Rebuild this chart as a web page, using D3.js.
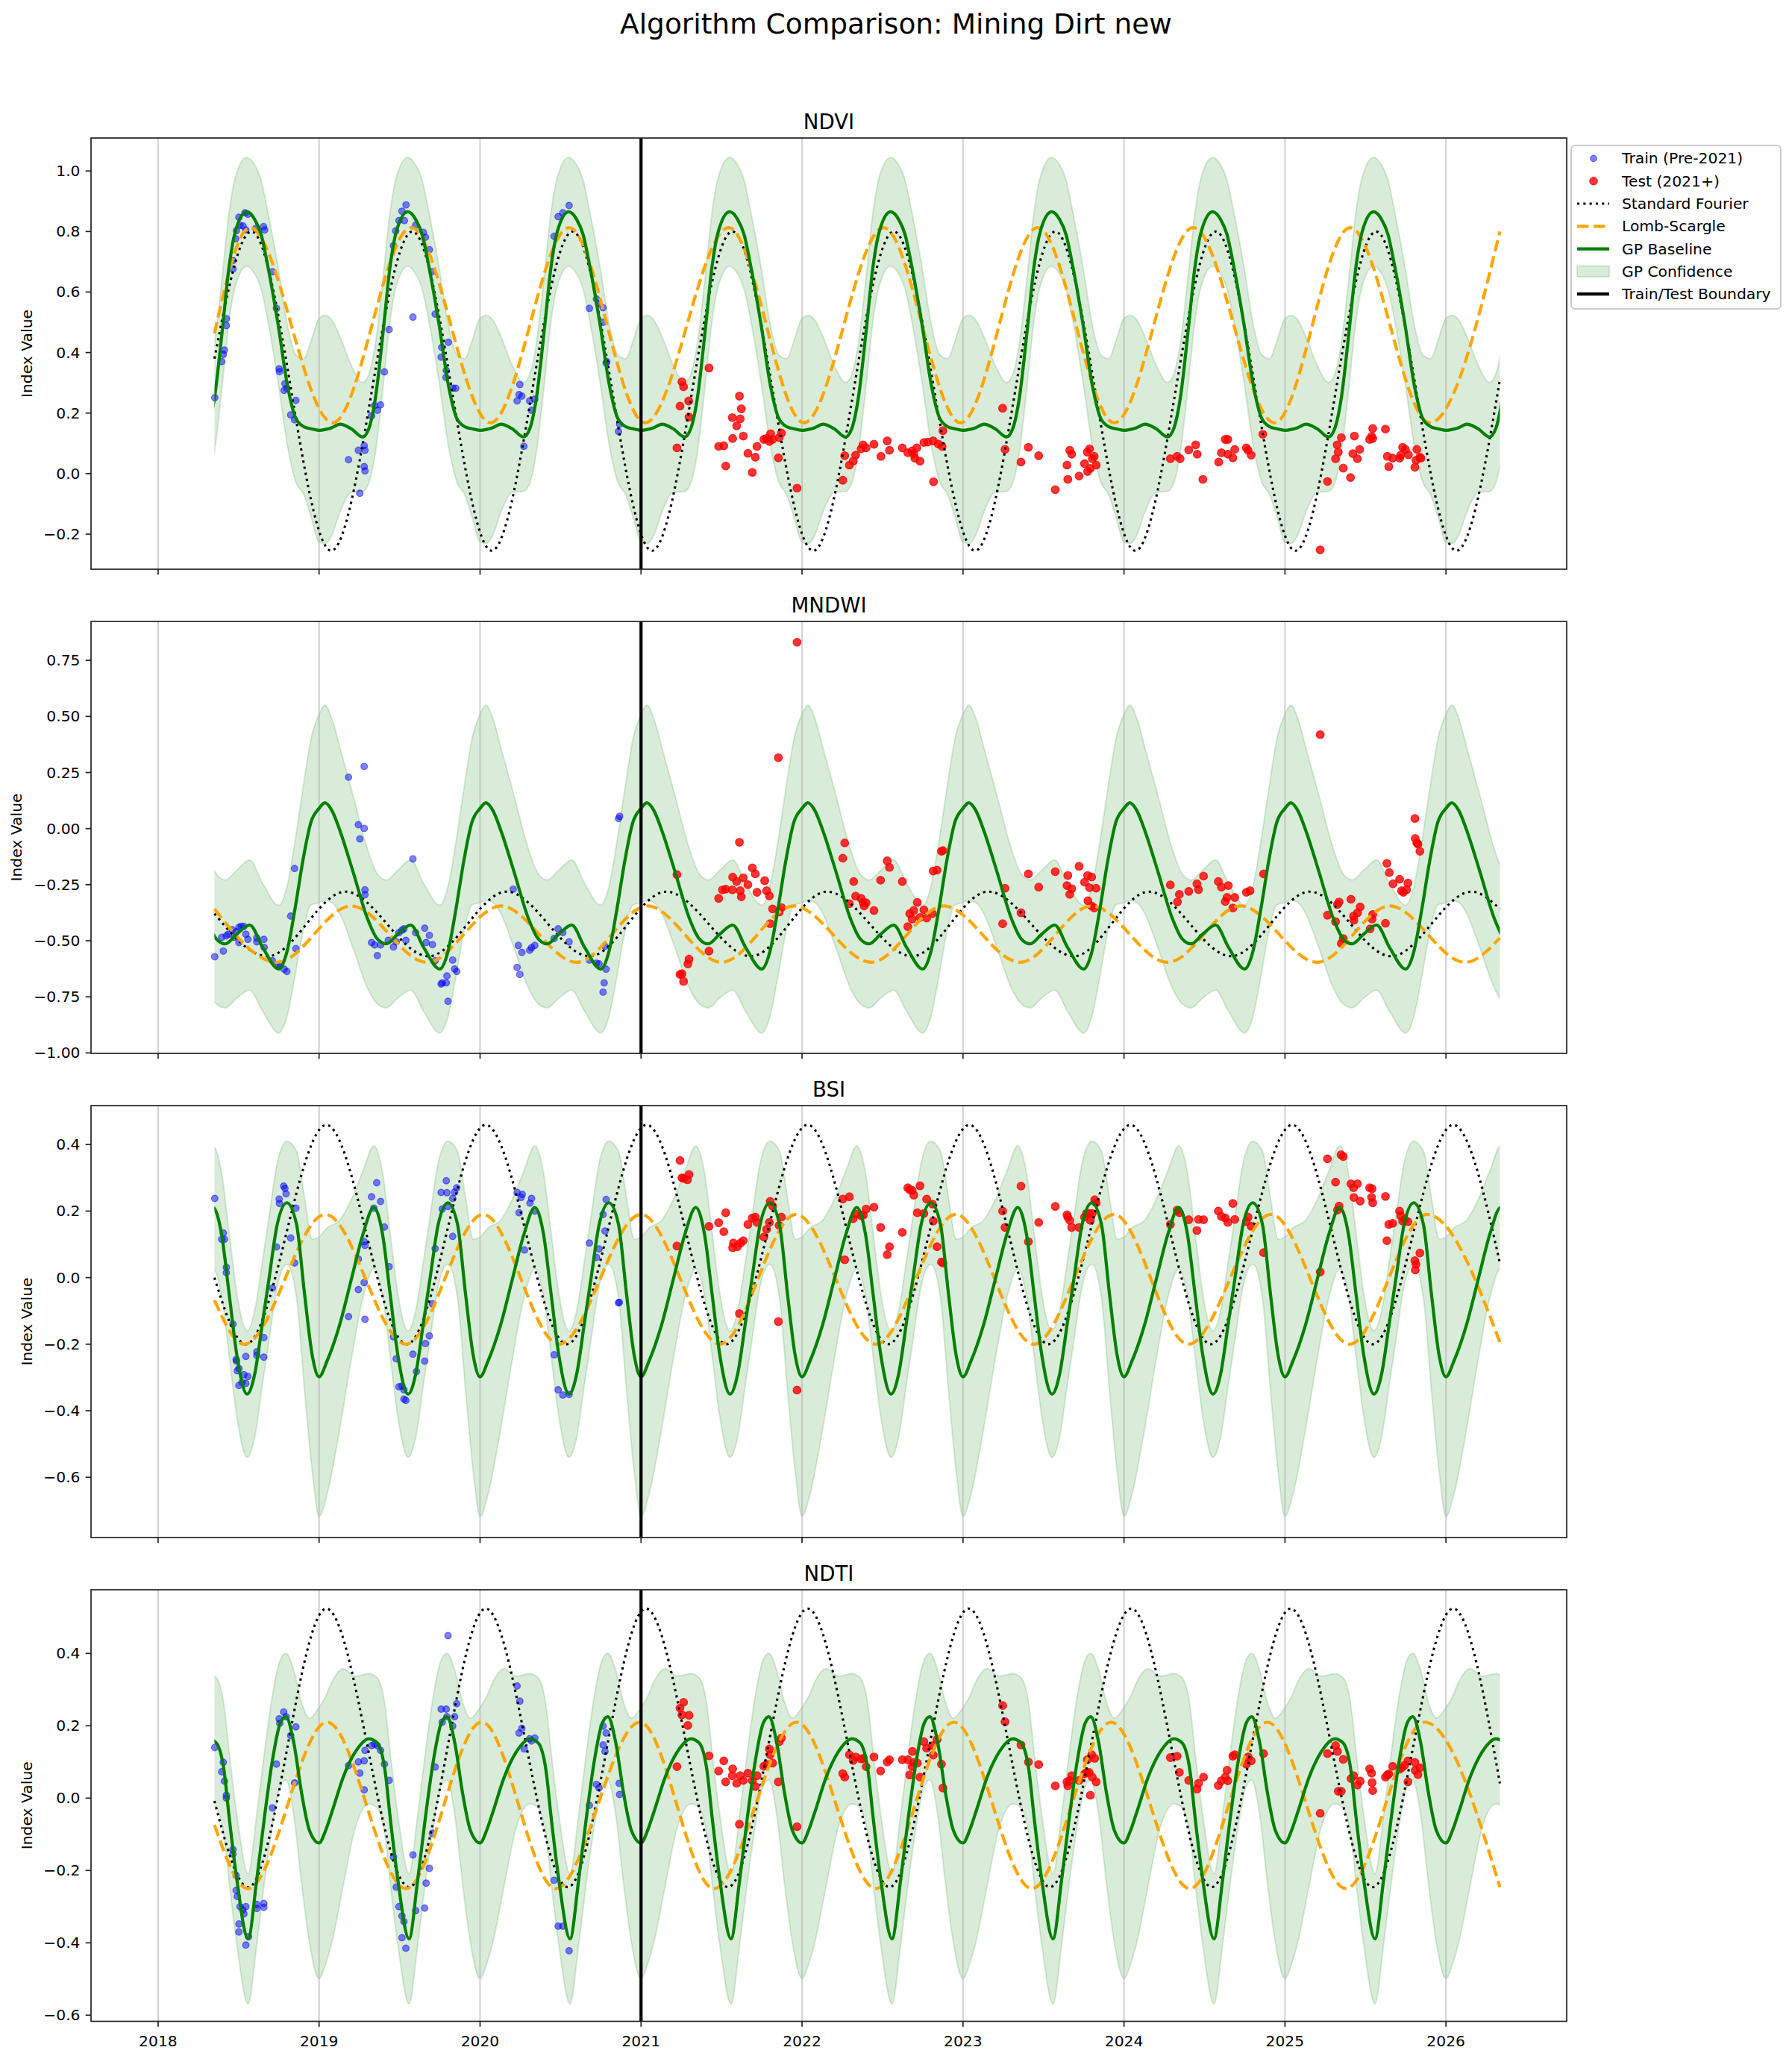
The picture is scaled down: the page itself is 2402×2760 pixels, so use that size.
<!DOCTYPE html>
<html>
<head>
<meta charset="utf-8">
<script src="https://cdn.jsdelivr.net/npm/d3@7"></script>
<style>
  body { margin: 0; background: #fff; }
  text { font-family: "DejaVu Sans", sans-serif; fill: #000; }
</style>
</head>
<body>
<div class="canvas"></div>
<script>
// ---- data ----
const yearTicks = [2018, 2019, 2020, 2021, 2022, 2023, 2024, 2025, 2026];
const splitYear = 2021;
const dataStart = 2018.35, dataEnd = 2026.335;
const gpYears = [2018, 2019, 2020, 2021, 2022, 2023, 2024, 2025, 2026];

// NDVI
const ndviTicks = [-0.2, 0.0, 0.2, 0.4, 0.6, 0.8, 1.0];
const ndviFourier = [[2018.35,0.38],[2018.58,0.80],[2019.075,-0.255],[2019.58,0.80],[2020.072,-0.255],[2020.575,0.80],[2021.068,-0.255],[2021.567,0.80],[2022.07,-0.255],[2022.57,0.80],[2023.075,-0.255],[2023.573,0.80],[2024.07,-0.255],[2024.57,0.80],[2025.065,-0.255],[2025.566,0.80],[2026.065,-0.255],[2026.335,0.31]];
const ndviLs = [[2018.35,0.463],[2018.57,0.813],[2019.085,0.168],[2019.572,0.813],[2020.065,0.168],[2020.553,0.813],[2021.025,0.168],[2021.545,0.813],[2022.012,0.168],[2022.507,0.813],[2022.985,0.168],[2023.464,0.813],[2023.94,0.168],[2024.43,0.813],[2024.935,0.168],[2025.405,0.813],[2025.9,0.168],[2026.335,0.80]];
const ndviGpPhase = [0.00,0.04,0.08,0.13,0.20,0.27,0.31,0.35,0.40,0.44,0.48,0.55,0.60,0.64,0.68,0.745,0.805,0.855,0.905,0.95];
const ndviGpMean = [0.143,0.146,0.152,0.163,0.148,0.121,0.150,0.250,0.480,0.680,0.800,0.865,0.840,0.790,0.690,0.494,0.287,0.183,0.155,0.148];
const ndviGpHalf = [0.370,0.377,0.355,0.290,0.210,0.180,0.180,0.180,0.180,0.180,0.180,0.180,0.180,0.180,0.180,0.190,0.200,0.210,0.225,0.290];
const ndviTrain = [[2018.352,0.251],[2018.395,0.37],[2018.405,0.394],[2018.412,0.408],[2018.424,0.489],[2018.424,0.512],[2018.465,0.676],[2018.465,0.704],[2018.482,0.776],[2018.487,0.803],[2018.502,0.847],[2018.509,0.821],[2018.528,0.818],[2018.54,0.862],[2018.545,0.805],[2018.558,0.857],[2018.606,0.81],[2018.655,0.816],[2018.662,0.805],[2018.71,0.667],[2018.735,0.546],[2018.752,0.346],[2018.754,0.337],[2018.788,0.297],[2018.8,0.282],[2018.783,0.275],[2018.824,0.194],[2018.856,0.242],[2018.848,0.178],
  [2019.183,0.046],[2019.244,0.077],[2019.253,-0.065],[2019.28,0.092],[2019.285,0.077],[2019.28,0.023],[2019.285,0.009],[2019.326,0.191],[2019.345,0.225],[2019.362,0.209],[2019.382,0.227],[2019.406,0.336],[2019.435,0.476],[2019.462,0.753],[2019.476,0.802],[2019.496,0.836],[2019.515,0.867],[2019.53,0.836],[2019.54,0.888],[2019.583,0.517],[2019.6,0.821],[2019.648,0.797],[2019.661,0.781],[2019.685,0.74],[2019.702,0.667],[2019.721,0.527],[2019.762,0.417],[2019.758,0.385],[2019.803,0.434],[2019.79,0.341],[2019.788,0.318],[2019.83,0.282],[2019.849,0.282],
  [2020.23,0.24],[2020.247,0.294],[2020.242,0.261],[2020.26,0.256],[2020.272,0.09],[2020.308,0.24],[2020.32,0.209],[2020.34,0.246],[2020.46,0.784],[2020.485,0.849],[2020.514,0.862],[2020.553,0.886],[2020.679,0.546],[2020.723,0.577],[2020.735,0.562],[2020.764,0.548],[2020.764,0.5],[2020.783,0.365],[2020.787,0.37],[2020.867,0.163],[2020.86,0.139]];
const ndviTest = [[2021.223,0.085],[2021.254,0.303],[2021.264,0.287],[2021.242,0.223],[2021.296,0.24],[2021.298,0.187],[2021.422,0.349],[2021.482,0.09],[2021.514,0.092],[2021.526,0.025],[2021.569,0.116],[2021.567,0.185],[2021.594,0.158],[2021.611,0.256],[2021.623,0.214],[2021.616,0.181],[2021.635,0.124],[2021.664,0.067],[2021.691,0.004],[2021.71,0.054],[2021.72,0.09],[2021.763,0.113],[2021.78,0.116],[2021.797,0.106],[2021.805,0.132],[2021.817,0.113],[2021.853,0.052],[2021.858,0.119],[2021.872,0.134],[2021.969,-0.048],
  [2022.253,-0.022],[2022.265,0.059],[2022.294,0.028],[2022.318,0.041],[2022.333,0.061],[2022.367,0.082],[2022.379,0.095],[2022.398,0.085],[2022.447,0.097],[2022.49,0.057],[2022.529,0.108],[2022.543,0.077],[2022.623,0.085],[2022.657,0.069],[2022.684,0.075],[2022.694,0.064],[2022.713,0.085],[2022.701,0.051],[2022.733,0.041],[2022.757,0.103],[2022.781,0.104],[2022.817,-0.027],[2022.815,0.108],[2022.846,0.098],[2022.87,0.09],[2022.875,0.142],
  [2023.246,0.216],[2023.261,0.08],[2023.36,0.038],[2023.406,0.087],[2023.47,0.059],[2023.573,-0.053],[2023.646,0.028],[2023.651,-0.019],[2023.663,0.077],[2023.675,0.064],[2023.721,-0.008],[2023.755,0.033],[2023.772,0.071],[2023.774,0.007],[2023.786,0.082],[2023.791,0.017],[2023.803,0.049],[2023.815,0.057],[2023.827,0.028],
  [2024.288,0.049],[2024.33,0.057],[2024.349,0.049],[2024.402,0.078],[2024.445,0.095],[2024.455,0.064],[2024.49,-0.019],[2024.588,0.038],[2024.605,0.069],[2024.629,0.113],[2024.645,0.113],[2024.645,0.064],[2024.676,0.052],[2024.688,0.08],[2024.76,0.085],[2024.771,0.077],[2024.79,0.061],[2024.862,0.13],
  [2025.219,-0.252],[2025.264,-0.026],[2025.314,0.049],[2025.324,0.095],[2025.331,0.071],[2025.35,0.119],[2025.362,0.018],[2025.407,-0.013],[2025.421,0.066],[2025.431,0.124],[2025.45,0.049],[2025.464,0.08],[2025.526,0.113],[2025.538,0.123],[2025.545,0.149],[2025.545,0.116],[2025.624,0.147],[2025.636,0.057],[2025.645,0.023],[2025.669,0.051],[2025.712,0.051],[2025.719,0.061],[2025.731,0.087],[2025.748,0.08],[2025.767,0.062],[2025.807,0.021],[2025.814,0.044],[2025.819,0.08],[2025.838,0.054],[2025.845,0.051]];

// MNDWI
const mndwiTicks = [-1.0, -0.75, -0.5, -0.25, 0.0, 0.25, 0.5, 0.75];
const mndwiFourier = [[2018.35,-0.379],[2018.68,-0.569],[2019.164,-0.281],[2019.68,-0.569],[2020.165,-0.281],[2020.68,-0.569],[2021.157,-0.281],[2021.683,-0.569],[2022.156,-0.281],[2022.685,-0.569],[2023.157,-0.281],[2023.69,-0.569],[2024.155,-0.281],[2024.665,-0.569],[2025.155,-0.281],[2025.66,-0.569],[2026.16,-0.281],[2026.335,-0.358]];
const mndwiLs = [[2018.35,-0.358],[2018.74,-0.596],[2019.2,-0.345],[2019.67,-0.596],[2020.13,-0.345],[2020.6,-0.596],[2021.04,-0.345],[2021.5,-0.596],[2021.95,-0.345],[2022.43,-0.596],[2022.88,-0.345],[2023.355,-0.596],[2023.8,-0.345],[2024.27,-0.596],[2024.725,-0.345],[2025.2,-0.596],[2025.652,-0.345],[2026.12,-0.596],[2026.335,-0.487]];
const mndwiGpPhase = [0.00,0.036,0.08,0.13,0.21,0.30,0.36,0.417,0.49,0.569,0.65,0.749,0.80,0.85,0.90,0.95];
const mndwiGpMean = [0.09,0.115,0.08,-0.01,-0.19,-0.40,-0.49,-0.514,-0.47,-0.43,-0.53,-0.626,-0.55,-0.36,-0.14,0.03];
const mndwiGpHalf = [0.42,0.435,0.41,0.37,0.34,0.31,0.29,0.285,0.285,0.29,0.285,0.285,0.29,0.30,0.32,0.37];
const mndwiTrain = [[2018.352,-0.571],[2018.395,-0.485],[2018.405,-0.546],[2018.424,-0.478],[2018.436,-0.471],[2018.461,-0.451],[2018.473,-0.485],[2018.485,-0.46],[2018.502,-0.44],[2018.502,-0.508],[2018.516,-0.436],[2018.533,-0.436],[2018.545,-0.471],[2018.558,-0.494],[2018.613,-0.487],[2018.613,-0.505],[2018.657,-0.494],[2018.659,-0.53],[2018.71,-0.589],[2018.744,-0.613],[2018.759,-0.609],[2018.783,-0.627],[2018.8,-0.637],[2018.824,-0.39],[2018.848,-0.178],[2018.856,-0.535],
  [2019.183,0.229],[2019.28,0.277],[2019.244,0.017],[2019.28,0.001],[2019.253,-0.046],[2019.285,-0.273],[2019.285,-0.295],[2019.326,-0.508],[2019.345,-0.519],[2019.362,-0.566],[2019.382,-0.519],[2019.43,-0.498],[2019.462,-0.528],[2019.479,-0.505],[2019.496,-0.464],[2019.515,-0.453],[2019.527,-0.447],[2019.539,-0.498],[2019.583,-0.135],[2019.6,-0.464],[2019.656,-0.444],[2019.665,-0.508],[2019.685,-0.476],[2019.704,-0.517],[2019.721,-0.589],[2019.758,-0.693],[2019.765,-0.688],[2019.79,-0.688],[2019.794,-0.657],[2019.801,-0.77],[2019.83,-0.586],[2019.842,-0.626],[2019.855,-0.637],
  [2020.206,-0.27],[2020.23,-0.619],[2020.247,-0.65],[2020.238,-0.521],[2020.26,-0.552],[2020.308,-0.542],[2020.32,-0.531],[2020.34,-0.521],[2020.46,-0.49],[2020.485,-0.447],[2020.514,-0.463],[2020.553,-0.505],[2020.679,-0.586],[2020.723,-0.6],[2020.739,-0.603],[2020.771,-0.688],[2020.764,-0.729],[2020.783,-0.627],[2020.776,-0.525],[2020.867,0.055],[2020.86,0.045]];
const mndwiTest = [[2021.969,0.831],[2021.853,0.316],[2021.223,-0.205],[2021.242,-0.65],[2021.254,-0.647],[2021.264,-0.681],[2021.291,-0.603],[2021.298,-0.582],[2021.422,-0.546],[2021.482,-0.311],[2021.506,-0.273],[2021.526,-0.27],[2021.567,-0.273],[2021.569,-0.216],[2021.594,-0.236],[2021.611,-0.061],[2021.616,-0.277],[2021.623,-0.304],[2021.635,-0.219],[2021.664,-0.25],[2021.691,-0.175],[2021.71,-0.202],[2021.72,-0.284],[2021.768,-0.232],[2021.78,-0.277],[2021.797,-0.3],[2021.817,-0.358],[2021.858,-0.372],[2021.872,-0.352],[2021.802,-0.424],
  [2022.253,-0.132],[2022.265,-0.064],[2022.321,-0.236],[2022.294,-0.335],[2022.333,-0.301],[2022.367,-0.311],[2022.379,-0.329],[2022.398,-0.331],[2022.386,-0.345],[2022.447,-0.365],[2022.488,-0.23],[2022.529,-0.144],[2022.543,-0.173],[2022.623,-0.236],[2022.657,-0.437],[2022.669,-0.379],[2022.684,-0.403],[2022.694,-0.365],[2022.716,-0.329],[2022.733,-0.396],[2022.757,-0.362],[2022.774,-0.399],[2022.81,-0.379],[2022.815,-0.189],[2022.839,-0.185],[2022.866,-0.101],[2022.875,-0.098],
  [2023.246,-0.424],[2023.261,-0.266],[2023.36,-0.375],[2023.406,-0.202],[2023.47,-0.261],[2023.573,-0.192],[2023.651,-0.209],[2023.646,-0.254],[2023.675,-0.268],[2023.663,-0.293],[2023.721,-0.168],[2023.755,-0.239],[2023.774,-0.209],[2023.799,-0.216],[2023.786,-0.263],[2023.776,-0.322],[2023.799,-0.345],[2023.815,-0.354],[2023.827,-0.266],
  [2024.288,-0.251],[2024.332,-0.327],[2024.344,-0.293],[2024.402,-0.28],[2024.453,-0.246],[2024.463,-0.272],[2024.494,-0.212],[2024.586,-0.236],[2024.605,-0.261],[2024.648,-0.254],[2024.629,-0.325],[2024.64,-0.307],[2024.676,-0.354],[2024.688,-0.307],[2024.76,-0.284],[2024.783,-0.277],[2024.867,-0.202],
  [2025.219,0.419],[2025.264,-0.386],[2025.314,-0.415],[2025.326,-0.338],[2025.336,-0.327],[2025.35,-0.512],[2025.362,-0.49],[2025.41,-0.315],[2025.426,-0.39],[2025.428,-0.409],[2025.45,-0.376],[2025.467,-0.349],[2025.529,-0.447],[2025.541,-0.403],[2025.545,-0.383],[2025.624,-0.422],[2025.633,-0.155],[2025.648,-0.196],[2025.671,-0.246],[2025.712,-0.226],[2025.724,-0.277],[2025.736,-0.284],[2025.755,-0.273],[2025.764,-0.243],[2025.807,0.045],[2025.809,-0.044],[2025.819,-0.064],[2025.826,-0.069],[2025.838,-0.101]];

// BSI
const bsiTicks = [-0.6, -0.4, -0.2, 0.0, 0.2, 0.4];
const bsiFourier = [[2018.35,0.0],[2018.545,-0.2],[2019.045,0.459],[2019.545,-0.2],[2020.035,0.459],[2020.54,-0.2],[2021.035,0.459],[2021.53,-0.2],[2022.035,0.459],[2022.535,-0.2],[2023.04,0.459],[2023.53,-0.2],[2024.04,0.459],[2024.54,-0.2],[2025.045,0.459],[2025.545,-0.2],[2026.045,0.459],[2026.335,0.044]];
const bsiLs = [[2018.35,-0.068],[2018.535,-0.2],[2019.04,0.19],[2019.54,-0.2],[2020.02,0.19],[2020.49,-0.2],[2021.0,0.19],[2021.49,-0.2],[2021.962,0.19],[2022.459,-0.2],[2022.955,0.19],[2023.44,-0.2],[2023.937,0.19],[2024.4,-0.2],[2024.914,0.19],[2025.402,-0.2],[2025.883,0.19],[2026.335,-0.194]];
const bsiGpPhase = [0.00,0.05,0.127,0.20,0.273,0.34,0.394,0.442,0.49,0.553,0.60,0.65,0.69,0.74,0.80,0.86,0.91,0.958];
const bsiGpMean = [-0.298,-0.25,-0.143,-0.006,0.131,0.211,0.131,-0.052,-0.235,-0.35,-0.29,-0.13,0.0,0.16,0.225,0.16,-0.05,-0.235];
const bsiGpHalf = [0.42,0.40,0.315,0.24,0.19,0.185,0.185,0.185,0.185,0.19,0.19,0.185,0.185,0.185,0.185,0.22,0.29,0.35];
const bsiTrain = [[2018.352,0.238],[2018.395,0.115],[2018.405,0.134],[2018.412,0.115],[2018.424,0.031],[2018.424,0.015],[2018.465,-0.14],[2018.485,-0.246],[2018.487,-0.251],[2018.492,-0.28],[2018.502,-0.273],[2018.502,-0.324],[2018.521,-0.315],[2018.533,-0.292],[2018.545,-0.237],[2018.545,-0.318],[2018.558,-0.297],[2018.613,-0.223],[2018.613,-0.234],[2018.657,-0.18],[2018.657,-0.239],[2018.71,-0.031],[2018.735,0.092],[2018.752,0.236],[2018.754,0.223],[2018.78,0.275],[2018.788,0.268],[2018.795,0.252],[2018.824,0.119],[2018.848,0.044],[2018.856,0.209],
  [2019.183,-0.117],[2019.244,0.056],[2019.244,-0.036],[2019.28,0.108],[2019.285,0.097],[2019.28,-0.015],[2019.285,-0.125],[2019.326,0.243],[2019.34,0.209],[2019.358,0.285],[2019.382,0.229],[2019.406,0.152],[2019.435,0.033],[2019.462,-0.178],[2019.479,-0.244],[2019.496,-0.328],[2019.515,-0.326],[2019.527,-0.365],[2019.539,-0.369],[2019.527,-0.337],[2019.583,-0.23],[2019.605,-0.282],[2019.656,-0.251],[2019.661,-0.198],[2019.685,-0.175],[2019.704,-0.079],[2019.721,0.087],[2019.758,0.256],[2019.765,0.206],[2019.79,0.291],[2019.794,0.255],[2019.801,0.214],[2019.83,0.238],[2019.83,0.124],[2019.842,0.257],[2019.855,0.27],
  [2020.23,0.256],[2020.242,0.195],[2020.255,0.241],[2020.262,0.25],[2020.276,0.083],[2020.31,0.224],[2020.32,0.238],[2020.34,0.2],[2020.46,-0.232],[2020.485,-0.337],[2020.514,-0.353],[2020.553,-0.351],[2020.679,0.104],[2020.723,0.061],[2020.739,0.086],[2020.764,0.19],[2020.783,0.235],[2020.776,0.14],[2020.865,-0.074],[2020.86,-0.076]];
const bsiTest = [[2021.223,0.095],[2021.242,0.352],[2021.254,0.3],[2021.264,0.298],[2021.288,0.294],[2021.298,0.31],[2021.422,0.154],[2021.482,0.165],[2021.514,0.138],[2021.526,0.195],[2021.569,0.09],[2021.574,0.104],[2021.598,0.093],[2021.611,-0.108],[2021.618,0.104],[2021.635,0.111],[2021.664,0.16],[2021.691,0.179],[2021.71,0.182],[2021.72,0.166],[2021.763,0.122],[2021.78,0.145],[2021.797,0.166],[2021.802,0.229],[2021.817,0.215],[2021.853,-0.132],[2021.858,0.157],[2021.872,0.182],[2021.969,-0.338],
  [2022.253,0.236],[2022.294,0.243],[2022.265,0.054],[2022.318,0.177],[2022.333,0.191],[2022.367,0.186],[2022.381,0.188],[2022.398,0.206],[2022.447,0.212],[2022.488,0.151],[2022.529,0.069],[2022.543,0.093],[2022.623,0.136],[2022.657,0.27],[2022.669,0.264],[2022.684,0.262],[2022.694,0.248],[2022.733,0.276],[2022.716,0.195],[2022.757,0.193],[2022.774,0.236],[2022.81,0.221],[2022.815,0.17],[2022.839,0.093],[2022.866,0.047],[2022.875,0.044],
  [2023.246,0.2],[2023.261,0.151],[2023.36,0.275],[2023.406,0.108],[2023.47,0.166],[2023.573,0.214],[2023.646,0.189],[2023.651,0.182],[2023.663,0.172],[2023.675,0.151],[2023.721,0.151],[2023.755,0.182],[2023.767,0.193],[2023.784,0.193],[2023.791,0.172],[2023.803,0.193],[2023.818,0.234],[2023.827,0.225],
  [2024.288,0.16],[2024.33,0.203],[2024.344,0.195],[2024.402,0.174],[2024.453,0.142],[2024.463,0.175],[2024.494,0.174],[2024.586,0.2],[2024.605,0.184],[2024.629,0.179],[2024.645,0.166],[2024.676,0.223],[2024.688,0.175],[2024.76,0.168],[2024.771,0.182],[2024.79,0.154],[2024.867,0.075],
  [2025.219,0.017],[2025.264,0.357],[2025.314,0.287],[2025.326,0.203],[2025.336,0.215],[2025.348,0.369],[2025.362,0.364],[2025.41,0.282],[2025.426,0.27],[2025.428,0.241],[2025.45,0.282],[2025.467,0.23],[2025.526,0.27],[2025.541,0.267],[2025.538,0.241],[2025.545,0.225],[2025.624,0.244],[2025.633,0.111],[2025.645,0.16],[2025.669,0.163],[2025.712,0.2],[2025.719,0.186],[2025.731,0.17],[2025.743,0.175],[2025.764,0.168],[2025.807,0.051],[2025.814,0.04],[2025.838,0.074],[2025.809,0.023]];

// NDTI
const ndtiTicks = [-0.6, -0.4, -0.2, 0.0, 0.2, 0.4];
const ndtiFourier = [[2018.35,-0.008],[2018.56,-0.246],[2019.045,0.524],[2019.56,-0.246],[2020.035,0.524],[2020.545,-0.246],[2021.03,0.524],[2021.54,-0.246],[2022.035,0.524],[2022.543,-0.246],[2023.035,0.524],[2023.54,-0.246],[2024.045,0.524],[2024.545,-0.246],[2025.035,0.524],[2025.545,-0.246],[2026.045,0.524],[2026.335,0.041]];
const ndtiLs = [[2018.35,-0.074],[2018.558,-0.25],[2019.05,0.21],[2019.54,-0.25],[2020.01,0.21],[2020.47,-0.25],[2020.993,0.21],[2021.453,-0.25],[2021.967,0.21],[2022.459,-0.25],[2022.943,0.21],[2023.428,-0.25],[2023.92,0.21],[2024.409,-0.25],[2024.89,0.21],[2025.379,-0.25],[2025.867,0.21],[2026.335,-0.246]];
const ndtiGpPhase = [0.00,0.04,0.08,0.15,0.224,0.31,0.36,0.41,0.442,0.49,0.559,0.612,0.66,0.709,0.758,0.794,0.843,0.891,0.94];
const ndtiGpMean = [-0.124,-0.09,-0.038,0.058,0.127,0.164,0.153,0.075,-0.055,-0.228,-0.389,-0.228,-0.055,0.101,0.206,0.225,0.153,0.015,-0.089];
const ndtiGpHalf = [0.375,0.37,0.36,0.30,0.21,0.18,0.18,0.18,0.18,0.18,0.18,0.18,0.18,0.18,0.175,0.175,0.20,0.25,0.31];
const ndtiTrain = [[2018.352,0.14],[2018.395,0.073],[2018.405,0.099],[2018.412,0.047],[2018.424,0.008],[2018.424,0.0],[2018.465,-0.142],[2018.465,-0.155],[2018.485,-0.214],[2018.485,-0.255],[2018.492,-0.272],[2018.509,-0.3],[2018.502,-0.348],[2018.502,-0.37],[2018.526,-0.309],[2018.533,-0.32],[2018.545,-0.3],[2018.545,-0.406],[2018.562,-0.383],[2018.613,-0.294],[2018.613,-0.305],[2018.657,-0.291],[2018.657,-0.302],[2018.71,-0.027],[2018.735,0.094],[2018.752,0.219],[2018.756,0.207],[2018.78,0.238],[2018.795,0.225],[2018.824,0.173],[2018.848,0.042],[2018.856,0.197],
  [2019.183,0.09],[2019.244,0.1],[2019.253,0.069],[2019.28,0.103],[2019.28,0.023],[2019.285,0.132],[2019.326,0.145],[2019.345,0.149],[2019.362,0.145],[2019.382,0.132],[2019.406,0.094],[2019.435,0.049],[2019.462,-0.163],[2019.479,-0.246],[2019.496,-0.3],[2019.515,-0.326],[2019.527,-0.341],[2019.539,-0.415],[2019.515,-0.386],[2019.583,-0.157],[2019.6,-0.311],[2019.656,-0.304],[2019.665,-0.235],[2019.685,-0.194],[2019.704,-0.097],[2019.721,0.086],[2019.758,0.246],[2019.765,0.21],[2019.79,0.246],[2019.801,0.449],[2019.794,0.225],[2019.83,0.199],[2019.842,0.225],[2019.855,0.261],
  [2020.23,0.31],[2020.247,0.268],[2020.242,0.18],[2020.26,0.193],[2020.274,0.136],[2020.308,0.164],[2020.32,0.158],[2020.34,0.166],[2020.46,-0.227],[2020.485,-0.354],[2020.514,-0.354],[2020.553,-0.422],[2020.679,-0.02],[2020.723,0.038],[2020.739,0.028],[2020.764,0.199],[2020.764,0.147],[2020.783,0.18],[2020.776,0.129],[2020.864,0.041],[2020.867,0.01]];
const ndtiTest = [[2021.223,0.087],[2021.242,0.249],[2021.254,0.23],[2021.264,0.265],[2021.291,0.201],[2021.298,0.229],[2021.422,0.117],[2021.482,0.075],[2021.514,0.103],[2021.526,0.045],[2021.569,0.081],[2021.567,0.062],[2021.594,0.041],[2021.611,-0.072],[2021.616,0.062],[2021.635,0.049],[2021.664,0.069],[2021.691,0.049],[2021.71,0.032],[2021.72,0.062],[2021.763,0.088],[2021.78,0.093],[2021.797,0.136],[2021.802,0.12],[2021.817,0.097],[2021.853,0.045],[2021.858,0.156],[2021.872,0.166],[2021.969,-0.079],
  [2022.253,0.068],[2022.265,0.058],[2022.294,0.12],[2022.318,0.104],[2022.333,0.114],[2022.367,0.108],[2022.381,0.11],[2022.398,0.087],[2022.447,0.114],[2022.488,0.075],[2022.529,0.1],[2022.543,0.106],[2022.623,0.106],[2022.657,0.106],[2022.669,0.064],[2022.684,0.087],[2022.694,0.099],[2022.716,0.097],[2022.733,0.058],[2022.757,0.156],[2022.774,0.138],[2022.686,0.129],[2022.81,0.145],[2022.815,0.119],[2022.839,0.162],[2022.866,0.094],[2022.875,0.028],
  [2023.246,0.256],[2023.261,0.211],[2023.36,0.147],[2023.406,0.1],[2023.47,0.093],[2023.573,0.034],[2023.646,0.045],[2023.651,0.034],[2023.663,0.049],[2023.675,0.062],[2023.721,0.049],[2023.755,0.067],[2023.767,0.071],[2023.772,0.106],[2023.784,0.071],[2023.791,0.008],[2023.799,0.12],[2023.803,0.058],[2023.818,0.11],[2023.827,0.045],
  [2024.288,0.112],[2024.33,0.116],[2024.344,0.071],[2024.402,0.049],[2024.453,0.025],[2024.463,0.041],[2024.494,0.058],[2024.586,0.035],[2024.605,0.048],[2024.629,0.058],[2024.645,0.048],[2024.64,0.077],[2024.676,0.116],[2024.688,0.12],[2024.76,0.094],[2024.771,0.114],[2024.79,0.103],[2024.867,0.123],
  [2025.219,-0.042],[2025.264,0.123],[2025.314,0.145],[2025.326,0.129],[2025.331,0.019],[2025.35,0.019],[2025.362,0.107],[2025.41,0.054],[2025.426,0.062],[2025.45,0.036],[2025.467,0.047],[2025.526,0.081],[2025.538,0.069],[2025.541,0.043],[2025.545,0.021],[2025.624,0.058],[2025.636,0.064],[2025.645,0.067],[2025.669,0.088],[2025.712,0.08],[2025.724,0.084],[2025.743,0.091],[2025.764,0.103],[2025.764,0.045],[2025.807,0.099],[2025.809,0.077],[2025.826,0.065],[2025.838,0.084]];

// ---- layout ----
const W = 2402, H = 2760;
const left = 122, right = 2100;

const panels = [
  { name: 'NDVI',  top: 185,  bottom: 763,    domain: [-0.316, 1.109], ticks: ndviTicks,  fmt: '.1f', labelX: 36,
    fourier: ndviFourier,  ls: ndviLs,  phase: ndviGpPhase,  mean: ndviGpMean,  half: ndviGpHalf,  train: ndviTrain,  test: ndviTest },
  { name: 'MNDWI', top: 833,  bottom: 1412,   domain: [-1.002, 0.9235], ticks: mndwiTicks, fmt: '.2f', labelX: 22,
    fourier: mndwiFourier, ls: mndwiLs, phase: mndwiGpPhase, mean: mndwiGpMean, half: mndwiGpHalf, train: mndwiTrain, test: mndwiTest },
  { name: 'BSI',   top: 1482, bottom: 2061,   domain: [-0.781, 0.517], ticks: bsiTicks,   fmt: '.1f', labelX: 36,
    fourier: bsiFourier,   ls: bsiLs,   phase: bsiGpPhase,   mean: bsiGpMean,   half: bsiGpHalf,   train: bsiTrain,   test: bsiTest },
  { name: 'NDTI',  top: 2131, bottom: 2709.5, domain: [-0.617, 0.576], ticks: ndtiTicks,  fmt: '.1f', labelX: 36,
    fourier: ndtiFourier,  ls: ndtiLs,  phase: ndtiGpPhase,  mean: ndtiGpMean,  half: ndtiGpHalf,  train: ndtiTrain,  test: ndtiTest }
];

const svg = d3.select('.canvas')
  .append('svg')
  .attr('width', W)
  .attr('height', H);

svg.append('rect').attr('width', W).attr('height', H).attr('fill', '#fff');

const x = d3.scaleLinear().domain([2017.5833, 2026.75]).range([left, right]);

svg.append('text')
  .attr('x', W / 2).attr('y', 45)
  .attr('text-anchor', 'middle')
  .style('font-size', '37.5px')
  .text('Algorithm Comparison: Mining Dirt new');

// repeat the read one-year GP profile over each year
function tile(phase, mean, half) {
  const pts = [];
  gpYears.forEach(yr => phase.forEach((p, i) => pts.push({ t: yr + p, m: mean[i], w: half[i] })));
  return pts;
}

panels.forEach((p, k) => {
  const y = d3.scaleLinear().domain(p.domain).range([p.bottom, p.top]);
  const g = svg.append('g');

  const clipId = 'clip' + k;
  svg.append('clipPath').attr('id', clipId)
    .append('rect')
    .attr('x', x(dataStart)).attr('y', p.top)
    .attr('width', x(dataEnd) - x(dataStart))
    .attr('height', p.bottom - p.top);

  const gp = tile(p.phase, p.mean, p.half);

  // confidence band
  g.append('path')
    .datum(gp)
    .attr('clip-path', `url(#${clipId})`)
    .attr('d', d3.area()
      .x(d => x(d.t))
      .y0(d => y(d.m - d.w))
      .y1(d => y(d.m + d.w))
      .curve(d3.curveMonotoneX))
    .attr('fill', 'green').attr('fill-opacity', 0.15)
    .attr('stroke', 'green').attr('stroke-opacity', 0.15).attr('stroke-width', 2);

  // observations
  g.selectAll('.train')
    .data(p.train)
    .enter().append('circle')
    .attr('cx', d => x(d[0])).attr('cy', d => y(d[1]))
    .attr('r', 4.4)
    .attr('fill', 'blue').attr('fill-opacity', 0.5)
    .attr('stroke', 'blue').attr('stroke-opacity', 0.5).attr('stroke-width', 1.2);

  g.selectAll('.test')
    .data(p.test)
    .enter().append('circle')
    .attr('cx', d => x(d[0])).attr('cy', d => y(d[1]))
    .attr('r', 5.3)
    .attr('fill', 'red').attr('fill-opacity', 0.8)
    .attr('stroke', 'red').attr('stroke-opacity', 0.8).attr('stroke-width', 1.2);

  // vertical grid
  g.selectAll('.grid')
    .data(yearTicks)
    .enter().append('line')
    .attr('x1', d => x(d)).attr('x2', d => x(d))
    .attr('y1', p.top).attr('y2', p.bottom)
    .attr('stroke', '#b0b0b0').attr('stroke-opacity', 0.55).attr('stroke-width', 2.2);

  const line = d3.line().x(d => x(d[0])).y(d => y(d[1])).curve(d3.curveMonotoneX);

  g.append('path').datum(p.fourier)
    .attr('d', line)
    .attr('fill', 'none').attr('stroke', 'black')
    .attr('stroke-width', 3.1).attr('stroke-dasharray', '3.1,5.2');

  g.append('path').datum(p.ls)
    .attr('d', line)
    .attr('fill', 'none').attr('stroke', 'orange')
    .attr('stroke-width', 4.2).attr('stroke-dasharray', '15.4,6.7');

  g.append('path').datum(gp)
    .attr('clip-path', `url(#${clipId})`)
    .attr('d', d3.line().x(d => x(d.t)).y(d => y(d.m)).curve(d3.curveMonotoneX))
    .attr('fill', 'none').attr('stroke', 'green').attr('stroke-width', 4.2);

  // train / test boundary
  g.append('line')
    .attr('x1', x(splitYear)).attr('x2', x(splitYear))
    .attr('y1', p.top).attr('y2', p.bottom)
    .attr('stroke', 'black').attr('stroke-width', 4.2);

  // frame
  g.append('rect')
    .attr('x', left).attr('y', p.top)
    .attr('width', right - left).attr('height', p.bottom - p.top)
    .attr('fill', 'none').attr('stroke', '#222').attr('stroke-width', 1.7);

  // y ticks
  const fmt = d3.format(p.fmt);
  p.ticks.forEach(v => {
    g.append('line')
      .attr('x1', left - 7.3).attr('x2', left)
      .attr('y1', y(v)).attr('y2', y(v))
      .attr('stroke', '#222').attr('stroke-width', 1.7);
    g.append('text')
      .attr('x', left - 14.5).attr('y', y(v))
      .attr('text-anchor', 'end').attr('dominant-baseline', 'central')
      .style('font-size', '20.3px')
      .text(fmt(v));
  });

  // x ticks
  yearTicks.forEach(v => {
    g.append('line')
      .attr('x1', x(v)).attr('x2', x(v))
      .attr('y1', p.bottom).attr('y2', p.bottom + 7.3)
      .attr('stroke', '#222').attr('stroke-width', 1.7);
    if (k === panels.length - 1) {
      g.append('text')
        .attr('x', x(v)).attr('y', p.bottom + 33)
        .attr('text-anchor', 'middle')
        .style('font-size', '20.3px')
        .text(v);
    }
  });

  g.append('text')
    .attr('transform', `translate(${p.labelX}, ${(p.top + p.bottom) / 2}) rotate(-90)`)
    .attr('text-anchor', 'middle').attr('dominant-baseline', 'central')
    .style('font-size', '20.3px')
    .text('Index Value');

  g.append('text')
    .attr('x', (left + right) / 2).attr('y', p.top - 12.5)
    .attr('text-anchor', 'middle')
    .style('font-size', '27.6px')
    .text(p.name);
});

// legend
const legendItems = ['Train (Pre-2021)', 'Test (2021+)', 'Standard Fourier', 'Lomb-Scargle', 'GP Baseline', 'GP Confidence', 'Train/Test Boundary'];
const lg = svg.append('g');
lg.append('rect')
  .attr('x', 2106).attr('y', 195).attr('width', 281).attr('height', 219)
  .attr('rx', 5).attr('fill', '#fff').attr('fill-opacity', 0.8)
  .attr('stroke', '#cccccc').attr('stroke-width', 2);

legendItems.forEach((label, i) => {
  const cy = 212.4 + i * 30.3;
  const h = lg.append('g');
  if (i === 0) {
    h.append('circle').attr('cx', 2136).attr('cy', cy).attr('r', 4.4)
      .attr('fill', 'blue').attr('fill-opacity', 0.5).attr('stroke', 'blue').attr('stroke-opacity', 0.5);
  } else if (i === 1) {
    h.append('circle').attr('cx', 2136).attr('cy', cy).attr('r', 5.3)
      .attr('fill', 'red').attr('fill-opacity', 0.8).attr('stroke', 'red').attr('stroke-opacity', 0.8);
  } else if (i === 5) {
    h.append('rect').attr('x', 2114).attr('y', cy - 7.3).attr('width', 43).attr('height', 14.6)
      .attr('fill', 'green').attr('fill-opacity', 0.15).attr('stroke', 'green').attr('stroke-opacity', 0.15).attr('stroke-width', 2);
  } else {
    const st = [null, null,
      { c: 'black', w: 3.1, d: '3.1,5.2' },
      { c: 'orange', w: 4.2, d: '15.4,6.7' },
      { c: 'green', w: 4.2, d: null },
      null,
      { c: 'black', w: 4.2, d: null }][i];
    h.append('line').attr('x1', 2114).attr('x2', 2157).attr('y1', cy).attr('y2', cy)
      .attr('stroke', st.c).attr('stroke-width', st.w).attr('stroke-dasharray', st.d);
  }
  lg.append('text')
    .attr('x', 2174).attr('y', cy)
    .attr('dominant-baseline', 'central')
    .style('font-size', '20.3px')
    .text(label);
});
</script>
</body>
</html>
